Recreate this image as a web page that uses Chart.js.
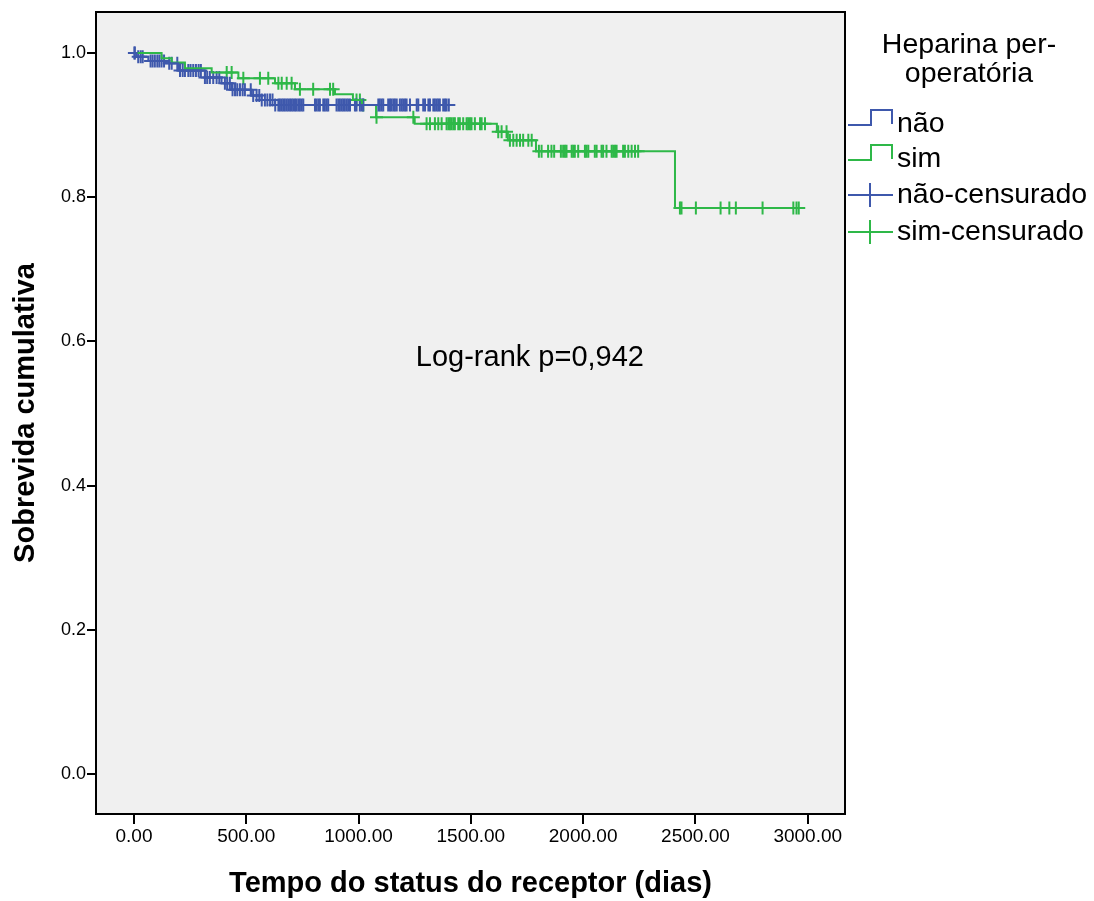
<!DOCTYPE html>
<html>
<head>
<meta charset="utf-8">
<script src="https://cdn.jsdelivr.net/npm/chart.js@4/dist/chart.umd.min.js"></script>
<style>
  html, body { margin: 0; padding: 0; background: #fff; }
  #wrap { width: 1094px; height: 901px; position: relative; }
</style>
</head>
<body>
<div id="wrap"><canvas id="km"></canvas></div>
<script>
// Kaplan-Meier steps (time in days, cumulative survival)
var naoTimes = [0, 12, 64, 138, 197, 316, 390, 435, 524, 568, 628, 1402];
var naoSurv  = [1.0, 0.995, 0.989, 0.986, 0.976, 0.966, 0.958, 0.949, 0.941, 0.935, 0.928, 0.928];

var simTimes = [0, 123, 168, 227, 346, 465, 628, 717, 895, 975, 1015, 1078, 1250, 1616, 1665, 1790, 2409, 2960];
var simSurv  = [1.0, 0.993, 0.987, 0.979, 0.973, 0.965, 0.958, 0.950, 0.943, 0.935, 0.928, 0.911, 0.902, 0.891, 0.879, 0.864, 0.785, 0.785];

// censored observations (days)
var naoCensored = [2, 4, 19, 30, 39, 74, 83, 93, 104, 113, 123, 134, 157, 168, 193, 205, 217, 227,
  242, 252, 264, 276, 288, 298, 316, 326, 338, 353, 368, 380, 405, 415, 427, 439, 450, 460, 472,
  484, 494, 520, 531, 546, 558, 569, 583, 594, 606, 617, 629, 643, 650, 658, 665, 672, 680, 687,
  695, 702, 709, 717, 724, 732, 739, 747, 754, 806, 813, 821, 828, 843, 850, 858, 865, 902, 910,
  917, 925, 932, 939, 947, 954, 962, 984, 991, 1006, 1014, 1021, 1088, 1095, 1103, 1110, 1132,
  1140, 1147, 1155, 1162, 1170, 1184, 1192, 1199, 1207, 1214, 1229, 1259, 1266, 1288, 1296, 1311,
  1318, 1333, 1340, 1348, 1355, 1362, 1377, 1385, 1392, 1402];

var simCensored = [413, 435, 487, 561, 598, 643, 658, 680, 702, 739, 798, 873, 887, 991, 1006,
  1021, 1080, 1244, 1303, 1318, 1340, 1355, 1370, 1392, 1400, 1407, 1414, 1422, 1429, 1444, 1451,
  1466, 1481, 1488, 1496, 1503, 1518, 1541, 1548, 1563, 1622, 1637, 1659, 1674, 1689, 1704, 1719,
  1733, 1756, 1771, 1803, 1815, 1844, 1859, 1871, 1901, 1911, 1919, 1926, 1949, 1956, 1963, 1978,
  2008, 2015, 2023, 2052, 2060, 2082, 2089, 2104, 2127, 2134, 2142, 2149, 2178, 2186, 2201, 2216,
  2231, 2245, 2431, 2438, 2502, 2612, 2651, 2680, 2799, 2936, 2950, 2960];

var xTicks = [0, 500, 1000, 1500, 2000, 2500, 3000];
var yTicks = [0.0, 0.2, 0.4, 0.6, 0.8, 1.0];

var blue = '#3e58ac';
var green = '#2eb848';
var fontFam = '"Liberation Sans", Arial, sans-serif';

function survAt(times, surv, t) {
  var s = surv[0];
  for (var i = 0; i < times.length; i++) {
    if (times[i] <= t) s = surv[i];
  }
  return s;
}
function steps(times, surv) {
  return times.map(function (t, i) { return { x: t, y: surv[i] }; });
}
function marks(cens, times, surv) {
  return cens.map(function (t) { return { x: t, y: survAt(times, surv, t) }; });
}

var frameAndText = {
  id: 'frameAndText',
  beforeDraw: function (chart) {
    var a = chart.chartArea, ctx = chart.ctx;
    ctx.save();
    ctx.fillStyle = '#fff';
    ctx.fillRect(0, 0, chart.width, chart.height);
    ctx.fillStyle = '#f0f0f0';
    ctx.fillRect(a.left, a.top, a.right - a.left, a.bottom - a.top);
    ctx.restore();
  },
  afterDraw: function (chart) {
    var a = chart.chartArea, ctx = chart.ctx;
    ctx.save();
    ctx.strokeStyle = '#000';
    ctx.lineWidth = 2;
    ctx.strokeRect(a.left, a.top, a.right - a.left, a.bottom - a.top);

    // annotation
    ctx.fillStyle = '#000';
    ctx.font = '29px ' + fontFam;
    ctx.textAlign = 'center';
    ctx.textBaseline = 'middle';
    ctx.fillText('Log-rank p=0,942', chart.scales.x.getPixelForValue(1763), chart.scales.y.getPixelForValue(0.577));

    // legend
    ctx.font = '28.5px ' + fontFam;
    ctx.fillText('Heparina per-', 969, 45);
    ctx.fillText('operatória', 969, 74);
    ctx.textAlign = 'left';
    var rows = [
      { label: 'não', color: blue, kind: 'step', y: 124 },
      { label: 'sim', color: green, kind: 'step', y: 159 },
      { label: 'não-censurado', color: blue, kind: 'cross', y: 195 },
      { label: 'sim-censurado', color: green, kind: 'cross', y: 232 }
    ];
    rows.forEach(function (r) {
      ctx.strokeStyle = r.color;
      ctx.lineWidth = 2;
      ctx.beginPath();
      if (r.kind === 'step') {
        ctx.moveTo(848, r.y + 1);
        ctx.lineTo(871, r.y + 1);
        ctx.lineTo(871, r.y - 14);
        ctx.lineTo(892, r.y - 14);
        ctx.lineTo(892, r.y);
      } else {
        ctx.moveTo(848, r.y);
        ctx.lineTo(893, r.y);
        ctx.moveTo(870, r.y - 12);
        ctx.lineTo(870, r.y + 12);
      }
      ctx.stroke();
      ctx.fillStyle = '#000';
      ctx.fillText(r.label, 897, r.y);
    });
    ctx.restore();
  }
};

new Chart(document.getElementById('km'), {
  type: 'line',
  data: {
    datasets: [
      {
        label: 'não',
        data: steps(naoTimes, naoSurv),
        borderColor: blue,
        borderWidth: 2,
        stepped: 'before',
        pointRadius: 0,
        fill: false
      },
      {
        label: 'sim',
        data: steps(simTimes, simSurv),
        borderColor: green,
        borderWidth: 2,
        stepped: 'before',
        pointRadius: 0,
        fill: false
      },
      {
        label: 'não-censurado',
        data: marks(naoCensored, naoTimes, naoSurv),
        showLine: false,
        pointStyle: 'cross',
        pointRadius: 6.5,
        pointBorderWidth: 2,
        borderColor: blue,
        pointBorderColor: blue
      },
      {
        label: 'sim-censurado',
        data: marks(simCensored, simTimes, simSurv),
        showLine: false,
        pointStyle: 'cross',
        pointRadius: 6.5,
        pointBorderWidth: 2,
        borderColor: green,
        pointBorderColor: green
      }
    ]
  },
  options: {
    animation: false,
    responsive: true,
    maintainAspectRatio: false,
    layout: { padding: { top: 12, right: 249, left: 0, bottom: 0 } },
    plugins: {
      legend: { display: false },
      tooltip: { enabled: false }
    },
    scales: {
      x: {
        type: 'linear',
        min: -169,
        max: 3166,
        afterFit: function (s) { s.height = 87; },
        afterBuildTicks: function (s) { s.ticks = xTicks.map(function (v) { return { value: v }; }); },
        grid: { drawOnChartArea: false, drawTicks: true, tickLength: 10, color: '#000', lineWidth: 2 },
        border: { display: false },
        ticks: {
          padding: 1,
          maxRotation: 0,
          color: '#000',
          font: { family: fontFam, size: 19 },
          callback: function (v) { return Number(v).toFixed(2); }
        },
        title: {
          display: true,
          text: 'Tempo do status do receptor (dias)',
          color: '#000',
          font: { family: fontFam, size: 29, weight: 'bold' },
          padding: { top: 0, bottom: 0 }
        }
      },
      y: {
        type: 'linear',
        min: -0.0555,
        max: 1.057,
        afterFit: function (s) { s.width = 96; },
        afterBuildTicks: function (s) { s.ticks = yTicks.map(function (v) { return { value: v }; }); },
        grid: { drawOnChartArea: false, drawTicks: true, tickLength: 9, color: '#000', lineWidth: 2 },
        border: { display: false },
        ticks: {
          padding: 1,
          color: '#000',
          font: { family: fontFam, size: 18 },
          callback: function (v) { return Number(v).toFixed(1); }
        },
        title: {
          display: true,
          text: 'Sobrevida cumulativa',
          color: '#000',
          font: { family: fontFam, size: 29, weight: 'bold' },
          padding: { top: 9, bottom: 0 }
        }
      }
    }
  },
  plugins: [frameAndText]
});
</script>
</body>
</html>
